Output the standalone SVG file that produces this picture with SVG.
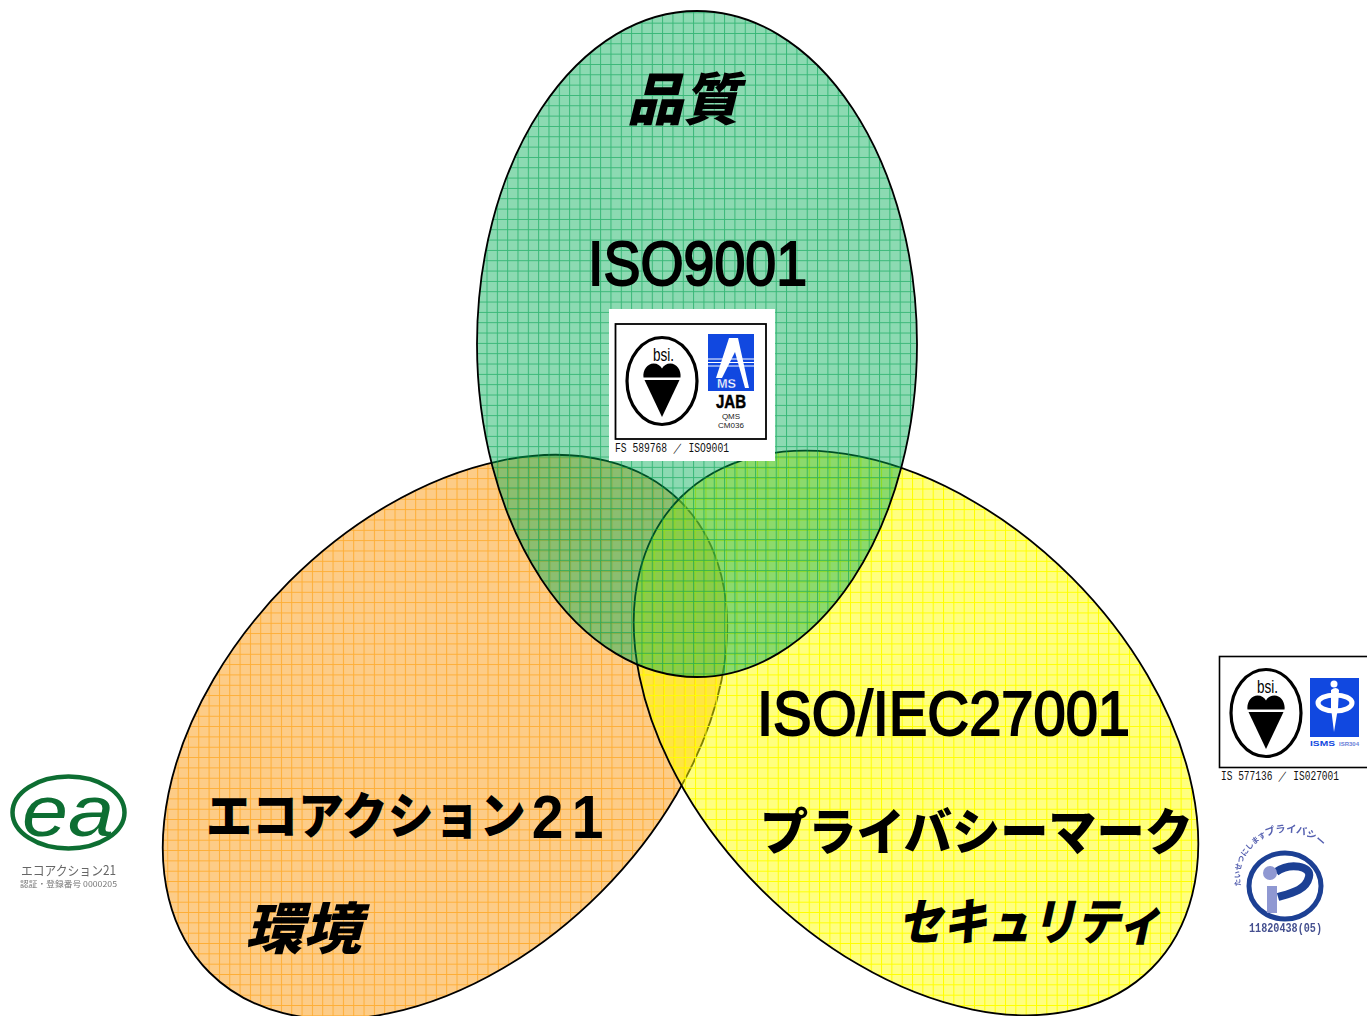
<svg xmlns="http://www.w3.org/2000/svg" width="1367" height="1016" viewBox="0 0 1367 1016">
<style>
.cap{font-family:"Liberation Sans",Arial,sans-serif;font-weight:400;fill:#000;stroke:#000;stroke-width:2}
.jp{font-family:"Noto Sans CJK JP",sans-serif;font-weight:900;fill:#000}
.it{font-style:italic}
.note{font-family:"Liberation Sans",sans-serif;fill:#222}
.mono{font-family:"Liberation Mono",monospace;fill:#111}
.bsi{font-family:"Liberation Sans",sans-serif;font-size:18px;fill:#000}
.edge{stroke:#000;stroke-width:1.800}
</style>
<defs>
<pattern id="pg" patternUnits="userSpaceOnUse" x="1" y="2" width="10.33" height="10.33">
<rect width="10.33" height="10.33" fill="#00ad55" fill-opacity=".45"/>
<path d="M0 .5H10.33M.5 0V10.33" stroke="#00a050" stroke-width="1" stroke-opacity=".6" fill="none"/>
</pattern>
<pattern id="po" patternUnits="userSpaceOnUse" x="2" y="3" width="10.33" height="10.33">
<rect width="10.33" height="10.33" fill="#fb9a10" fill-opacity=".5"/>
<path d="M0 .5H10.33M.5 0V10.33" stroke="#ff9900" stroke-width="1" stroke-opacity=".6" fill="none"/>
</pattern>
<pattern id="py" patternUnits="userSpaceOnUse" x="3" y="3" width="10.33" height="10.33">
<rect width="10.33" height="10.33" fill="#ffff00" fill-opacity=".5"/>
<path d="M0 .5H10.33M.5 0V10.33" stroke="#ffff00" stroke-width="1" fill="none"/>
</pattern>
<filter id="soft" x="-5%" y="-5%" width="110%" height="110%"><feGaussianBlur stdDeviation=".45"/></filter>
<g id="bsimark">
<ellipse cx="0" cy="0" rx="35" ry="43.500" fill="#fff" stroke="#000" stroke-width="3.200"/>
<path d="M0 -3.500C-6 -3.500 -18.500 -3.500 -18.500 -3.500C-19.500 -11 -14.500 -17.500 -8.500 -17.500C-4.500 -17.500 -1.500 -15.500 0 -12.500C1.500 -15.500 4.500 -17.500 8.500 -17.500C14.500 -17.500 19.500 -11 18.500 -3.500Z" fill="#000"/>
<path d="M-17.500 -1H17.500L0 36Z" fill="#000"/>
</g>
</defs>

<g id="connectors"></g>

<g id="node-orange"><path class="edge" d="M209.500 972.500A333 220 -45 0 1 680.500 501.500A333 220 -45 0 1 209.500 972.500Z" fill="url(#po)"/></g>
<g id="node-yellow"><path class="edge" d="M680.500 497.500A333 220 45 0 1 1151.500 968.500A333 220 45 0 1 680.500 497.500Z" fill="url(#py)"/></g>
<g id="node-green"><ellipse class="edge" cx="697" cy="344" rx="220" ry="333" fill="url(#pg)"/></g>

<g id="label-quality">
<text class="jp it" x="627" y="120" font-size="57" textLength="112" lengthAdjust="spacingAndGlyphs">品質</text>
<text class="cap" x="588" y="285" font-size="63" textLength="219" lengthAdjust="spacingAndGlyphs">ISO9001</text>
</g>
<g id="label-env">
<text class="jp" transform="translate(206 834) scale(.92 1)" font-size="50">エコアクション<tspan x="354" y="4" font-family="Liberation Sans,sans-serif" font-weight="700" font-size="62" letter-spacing="9">21</tspan></text>
<text class="jp it" x="245" y="949" font-size="56" textLength="116" lengthAdjust="spacingAndGlyphs">環境</text>
</g>
<g id="label-security">
<text class="cap" x="757" y="735" font-size="63" textLength="373" lengthAdjust="spacingAndGlyphs">ISO/IEC27001</text>
<text class="jp" x="760" y="850" font-size="50" textLength="433" lengthAdjust="spacingAndGlyphs">プライバシーマーク</text>
<text class="jp it" x="898" y="940" font-size="50" textLength="264" lengthAdjust="spacingAndGlyphs">セキュリティ</text>
</g>

<g id="logo-jab">
<rect x="609" y="309" width="166" height="152" fill="#fff"/>
<rect x="615.500" y="324" width="150.500" height="115" fill="#fff" stroke="#000" stroke-width="1.800"/>
<use href="#bsimark" x="662" y="381"/>
<text class="bsi" x="653" y="361" textLength="21" lengthAdjust="spacingAndGlyphs">bsi.</text>
<rect x="708" y="334" width="46" height="57" fill="#1148e0"/>
<path d="M708 359H754M708 362.500H754M708 366H754" stroke="#fff" stroke-width="1.200"/>
<path d="M729 338L738 338L749 388L745 388L735 352L722 378L716 378Z" fill="#fff"/>
<text x="717" y="388" font-family="Liberation Sans,sans-serif" font-weight="700" font-size="13" fill="#fff" stroke="#1148e0" stroke-width=".3" textLength="19" lengthAdjust="spacingAndGlyphs">MS</text>
<text x="716" y="408" font-family="Liberation Sans,sans-serif" font-weight="700" font-size="18" fill="#000" stroke="#000" stroke-width=".5" textLength="30" lengthAdjust="spacingAndGlyphs">JAB</text>
<text class="note" x="731" y="419" text-anchor="middle" font-size="8">QMS</text>
<text class="note" x="731" y="428" text-anchor="middle" font-size="8">CM036</text>
<text class="mono" x="615" y="452" font-size="12" textLength="114" lengthAdjust="spacingAndGlyphs">FS 589768 ／ ISO9001</text>
</g>

<g id="logo-isms">
<rect x="1219.500" y="656.500" width="150" height="111" fill="#fff" stroke="#000" stroke-width="1.600"/>
<use href="#bsimark" x="1266" y="713"/>
<text class="bsi" x="1257" y="693" textLength="21" lengthAdjust="spacingAndGlyphs">bsi.</text>
<rect x="1310" y="678" width="49" height="59" fill="#1148e0"/>
<ellipse cx="1335" cy="703" rx="17" ry="8" fill="none" stroke="#fff" stroke-width="5"/>
<path d="M1331 690Q1336 686 1339 690L1338 708L1334 732L1331 708Z" fill="#fff"/>
<circle cx="1334" cy="684" r="3.500" fill="#fff"/>
<text x="1310" y="746" font-family="Liberation Sans,sans-serif" font-weight="700" font-size="8" fill="#1148e0" textLength="25" lengthAdjust="spacingAndGlyphs">ISMS</text>
<text x="1339" y="746" font-family="Liberation Sans,sans-serif" font-weight="700" font-size="5" fill="#6a80d8" textLength="20" lengthAdjust="spacingAndGlyphs">ISR304</text>
<text class="mono" x="1221" y="780" font-size="12" textLength="118" lengthAdjust="spacingAndGlyphs">IS 577136 ／ IS027001</text>
</g>

<g id="logo-ea" filter="url(#soft)">
<ellipse cx="68.500" cy="812.500" rx="56" ry="36" fill="none" stroke="#0e6e32" stroke-width="4.500"/>
<text x="68" y="836" text-anchor="middle" font-family="Liberation Sans,sans-serif" font-style="italic" font-size="72" fill="#0e6e32" textLength="92" lengthAdjust="spacingAndGlyphs">ea</text>
<text x="21" y="875" font-family="Noto Sans CJK JP,sans-serif" font-size="13" fill="#666" textLength="95" lengthAdjust="spacingAndGlyphs">エコアクション21</text>
<text x="20" y="887" font-family="Noto Sans CJK JP,sans-serif" font-size="8" fill="#777" textLength="97" lengthAdjust="spacingAndGlyphs">認証・登録番号 0000205</text>
</g>

<g id="logo-privacy" filter="url(#soft)">
<ellipse cx="1285" cy="886" rx="36" ry="33" fill="none" stroke="#1c3f94" stroke-width="5"/>
<path d="M1276 872C1290 862 1312 866 1309 877C1306 890 1292 893 1278 897" fill="none" stroke="#1c3f94" stroke-width="8"/>
<circle cx="1270" cy="873" r="7" fill="#8f98d2"/>
<rect x="1267" y="886" width="10" height="27" fill="#8f98d2"/>
<path id="arc" d="M1241 886A44 42 0 0 1 1333 868" fill="none"/>
<text font-family="Noto Sans CJK JP,sans-serif" font-weight="700" fill="#5560b0"><textPath href="#arc"><tspan font-size="7.500">たいせつにします</tspan><tspan font-size="10">プライバシー</tspan></textPath></text>
<text class="mono" x="1249" y="932" font-weight="700" font-size="12" style="fill:#44508f" textLength="73" lengthAdjust="spacingAndGlyphs">11820438(05)</text>
</g>
</svg>
